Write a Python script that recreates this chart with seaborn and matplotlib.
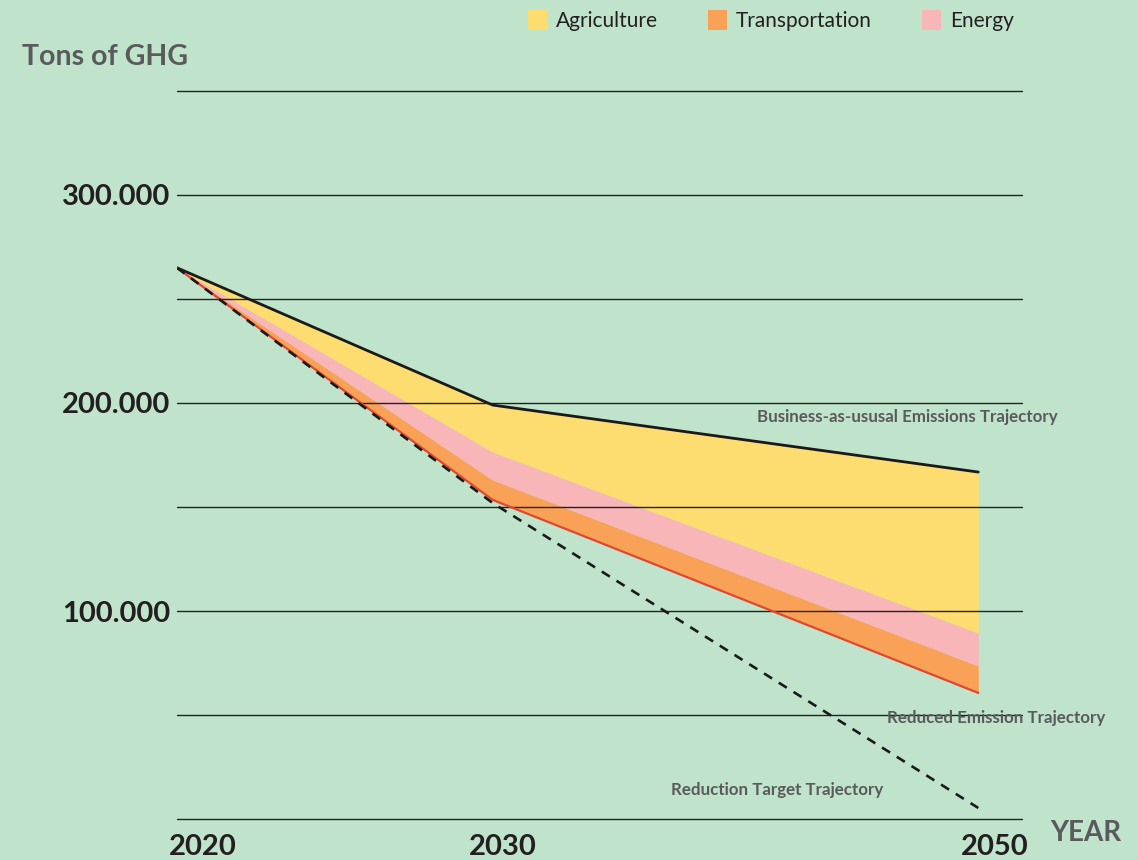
import numpy as np
import pandas as pd
import matplotlib
matplotlib.use('Agg')
import matplotlib.pyplot as plt
import matplotlib.transforms as mtrans
from matplotlib.patches import Patch
import seaborn as sns

# datos
years = [2020, 2030, 2050]
business_as_usual = [265000, 199000, 166800]
reduced_emissions = [265000, 153400, 60600]
reduction_target = [265000, 151900, 5300]
transportation = [0, 9600, 13000]
energy = [0, 13400, 15800]
agriculture = [0, 22600, 77400]

y_ticks = [100000, 200000, 300000]
y_tick_labels = ['100.000', '200.000', '300.000']
x_tick_labels = ['2020', '2030', '2050']

df = pd.DataFrame({'year': years,
                   'bau': business_as_usual,
                   'reduced': reduced_emissions,
                   'target': reduction_target})

bg = '#c0e3cc'
c_agri = '#fddc70'
c_trans = '#f9a257'
c_energy = '#f8b6b9'
grey = '#5a5a5c'
dark = '#231f20'

sns.set_theme(style='white')
plt.rcParams['font.family'] = ['Lato', 'DejaVu Sans']

fig = plt.figure(figsize=(11.38, 8.6), dpi=100, facecolor=bg)
ax = fig.add_axes([177 / 1138, 1 - 819 / 860, (1022 - 177) / 1138, (819 - 91) / 860])
ax.set_facecolor(bg)


# eje x no lineal: 2030-2050 comprimido
def fwd(x):
    x = np.asarray(x, dtype=float)
    return np.where(x <= 2030, x - 2020, 10 + (x - 2030) * 0.769)


def inv(y):
    y = np.asarray(y, dtype=float)
    return np.where(y <= 10, 2020 + y, 2030 + (y - 10) / 0.769)


ax.set_xscale('function', functions=(fwd, inv))

# areas apiladas sobre la trayectoria reducida
base = np.array(reduced_emissions, dtype=float)
top_t = base + np.array(transportation)
top_e = top_t + np.array(energy)
top_a = top_e + np.array(agriculture)
ax.fill_between(years, base, top_t, color=c_trans, lw=0, zorder=1)
ax.fill_between(years, top_t, top_e, color=c_energy, lw=0, zorder=1)
ax.fill_between(years, top_e, top_a, color=c_agri, lw=0, zorder=1)

sns.lineplot(data=df, x='year', y='bau', ax=ax, color='#1a1a1a', lw=2.0, zorder=4)
sns.lineplot(data=df, x='year', y='reduced', ax=ax, color='#e0472f', lw=1.6, zorder=4)
sns.lineplot(data=df, x='year', y='target', ax=ax, color='#1a1a1a', lw=1.9,
             linestyle=(0, (3.6, 3.0)), zorder=5)

ax.set_xlim(2020, 2051.8)
ax.set_ylim(0, 350000)

ax.set_yticks(y_ticks)
ax.set_yticklabels(y_tick_labels)
ax.set_yticks(np.arange(0, 350001, 50000), minor=True)
ax.set_xticks(years)
ax.set_xticklabels(x_tick_labels)
ax.set_xticks([], minor=True)
ax.set_axisbelow(False)
ax.grid(False)
ax.grid(which='both', axis='y', color='#222222', lw=1.0)
for t in ax.yaxis.get_major_ticks() + ax.yaxis.get_minor_ticks():
    t.gridline.set_clip_on(False)
ax.tick_params(axis='both', which='both', length=0)
ax.tick_params(axis='y', pad=5, labelsize=21, labelcolor=dark)
ax.tick_params(axis='x', pad=11, labelsize=21, labelcolor=dark)
for lab in ax.get_yticklabels() + ax.get_xticklabels():
    lab.set_fontweight('bold')
# desplazamiento de las etiquetas del eje x (px)
for lab, dx in zip(ax.get_xticklabels(), [26, 10, 16]):
    off = mtrans.ScaledTranslation(dx / 100, 0, fig.dpi_scale_trans)
    lab.set_transform(lab.get_transform() + off)
for s in ax.spines.values():
    s.set_visible(False)
ax.set_xlabel('')
ax.set_ylabel('')

fig.text(22 / 1138, 1 - 57 / 860, 'Tons of GHG', fontsize=20.5, fontweight='bold',
         color=grey, va='center', ha='left')
fig.text(1050 / 1138, 1 - 833 / 860, 'YEAR', fontsize=20, fontweight='bold',
         color=grey, va='center', ha='left')
fig.text(757 / 1138, 1 - 417 / 860, 'Business-as-ususal Emissions Trajectory',
         fontsize=12.2, fontweight='bold', color=grey, va='center', ha='left')
fig.text(887 / 1138, 1 - 718 / 860, 'Reduced Emission Trajectory',
         fontsize=12.2, fontweight='bold', color=grey, va='center', ha='left')
fig.text(671 / 1138, 1 - 790 / 860, 'Reduction Target Trajectory',
         fontsize=12.2, fontweight='bold', color=grey, va='center', ha='left')

handles = [Patch(facecolor=c_agri, edgecolor='none', label='Agriculture'),
           Patch(facecolor=c_trans, edgecolor='none', label='Transportation'),
           Patch(facecolor=c_energy, edgecolor='none', label='Energy')]
fig.legend(handles=handles, ncol=3, loc='upper left',
           bbox_to_anchor=(509 / 1138, 1 + 9 / 860), frameon=False,
           fontsize=15, handlelength=0.9, handleheight=1.1, handletextpad=0.45,
           columnspacing=2.4, labelcolor=dark)

fig.savefig('out.png', dpi=100, facecolor=bg)
